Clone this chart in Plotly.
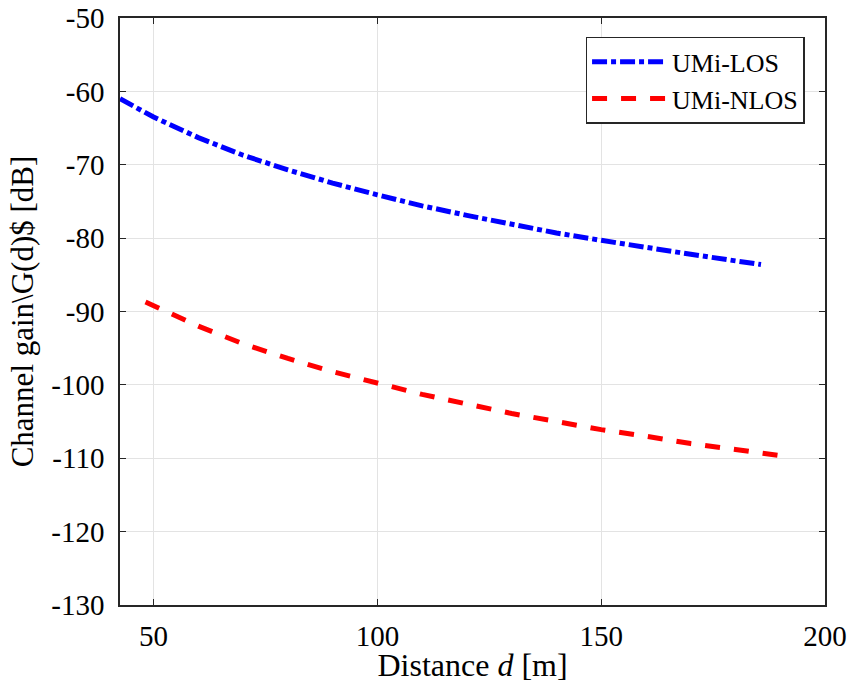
import plotly.graph_objects as go

# Distance [m] and channel gain [dB]
d_los = [42.5, 50, 60, 70, 80, 90, 100, 110, 120, 130, 140, 150, 160, 170, 180, 185.7]
g_los = [-61.0, -63.5, -66.3, -68.7, -70.7, -72.5, -74.1, -75.6, -76.9, -78.1, -79.3, -80.3, -81.3, -82.2, -83.1, -83.6]

d_nlos = [48.2, 50, 60, 70, 80, 90, 100, 110, 120, 130, 140, 150, 160, 170, 180, 191.9]
g_nlos = [-88.7, -89.2, -92.0, -94.4, -96.4, -98.2, -99.8, -101.3, -102.6, -103.9, -105.0, -106.1, -107.0, -108.0, -108.8, -109.8]

x_ticks = [50, 100, 150, 200]
y_ticks = [-50, -60, -70, -80, -90, -100, -110, -120, -130]

FONT = "Liberation Serif"

fig = go.Figure()
fig.add_trace(go.Scatter(x=d_los, y=g_los, mode="lines", name="UMi-LOS",
                         line=dict(color="#0000ff", width=5, dash="15px,4px,5px,4px")))
fig.add_trace(go.Scatter(x=d_nlos, y=g_nlos, mode="lines", name="UMi-NLOS",
                         line=dict(color="#ff0000", width=5, dash="15px,14px")))

axis_common = dict(showline=True, linecolor="#262626", linewidth=1.5, mirror="ticks",
                   ticks="inside", ticklen=6, tickcolor="#262626", automargin=False,
                   showgrid=True, gridcolor="#e3e3e3", gridwidth=1, zeroline=False,
                   tickfont=dict(family=FONT, size=29, color="black"))

fig.update_xaxes(range=[42.5, 200], tickvals=x_ticks, ticktext=[str(v) for v in x_ticks],
                 ticklabelstandoff=4,
                 title=dict(text="Distance <i>d</i> [m]", font=dict(family=FONT, size=32, color="black"),
                            standoff=4),
                 **axis_common)
fig.update_yaxes(range=[-130, -50], tickvals=y_ticks, ticktext=[str(v) for v in y_ticks],
                 ticklabelstandoff=8,
                 title=dict(text="Channel gain\\G(d)$ [dB]", font=dict(family=FONT, size=31, color="black"),
                            standoff=8),
                 **axis_common)

fig.update_layout(
    template="none",
    width=848, height=683,
    margin=dict(l=120, r=23, t=18, b=78, autoexpand=False),
    paper_bgcolor="white", plot_bgcolor="white",
    font=dict(family=FONT, color="black"),
    legend=dict(x=0.971, y=0.968, xanchor="right", yanchor="top",
                bgcolor="white", bordercolor="#262626", borderwidth=1.5,
                font=dict(family=FONT, size=26, color="black"),
                itemwidth=75, tracegroupgap=0),
    showlegend=True,
)

fig.write_html("out.html")
